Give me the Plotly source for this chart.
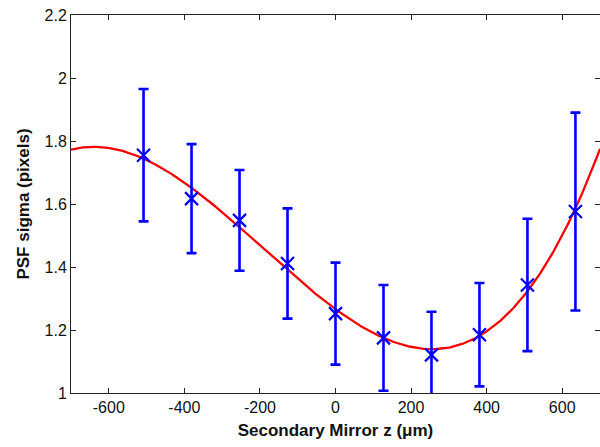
import numpy as np
import plotly.graph_objects as go

# Measured PSF width versus secondary mirror position
mirror_z = [-508, -381, -254, -127, 0, 127, 254, 381, 508, 635]
psf_sigma = [1.755, 1.617, 1.548, 1.411, 1.252, 1.175, 1.121, 1.185, 1.343, 1.576]
sigma_err = [0.210, 0.173, 0.160, 0.175, 0.162, 0.168, 0.137, 0.164, 0.210, 0.314]

x_ticks = [-600, -400, -200, 0, 200, 400, 600]
y_ticks = [1, 1.2, 1.4, 1.6, 1.8, 2, 2.2]

# Least-squares cubic through the measurements
coeffs = np.polyfit(mirror_z, psf_sigma, 3)
z_fit = np.linspace(-700, 700, 400)
sigma_fit = np.polyval(coeffs, z_fit)

fig = go.Figure()
fig.add_trace(go.Scatter(
    x=z_fit, y=sigma_fit, mode="lines",
    line=dict(color="#ff0000", width=2.3),
    showlegend=False, hoverinfo="skip",
))
fig.add_trace(go.Scatter(
    x=mirror_z, y=psf_sigma, mode="markers",
    marker=dict(symbol="x-thin", size=13, line=dict(color="#0000ff", width=2.2), color="#0000ff"),
    error_y=dict(type="data", array=sigma_err, color="#0000ff", thickness=2.6, width=5),
    showlegend=False,
))

axis_common = dict(
    showline=True, linecolor="#222222", linewidth=1, mirror="ticks",
    ticks="inside", ticklen=5, tickcolor="#222222", tickwidth=1,
    showgrid=False, zeroline=False,
    tickfont=dict(family="Liberation Sans, Arial, sans-serif", size=16, color="#111111"),
)

fig.update_xaxes(
    range=[-700, 700], tickvals=x_ticks, ticktext=[str(v) for v in x_ticks],
    title=dict(text="<b>Secondary Mirror z (μm)</b>", standoff=8,
               font=dict(family="Liberation Sans, Arial, sans-serif", size=17, color="#111111")),
    **axis_common,
)
fig.update_yaxes(
    range=[1, 2.2], tickvals=y_ticks, ticktext=["1", "1.2", "1.4", "1.6", "1.8", "2", "2.2"],
    title=dict(text="<b>PSF sigma (pixels)</b>", standoff=10,
               font=dict(family="Liberation Sans, Arial, sans-serif", size=17, color="#111111")),
    **axis_common,
)

fig.update_layout(
    width=600, height=447,
    margin=dict(l=71, r=0, t=15, b=54),
    paper_bgcolor="white", plot_bgcolor="white",
)

fig.write_html("out.html")
